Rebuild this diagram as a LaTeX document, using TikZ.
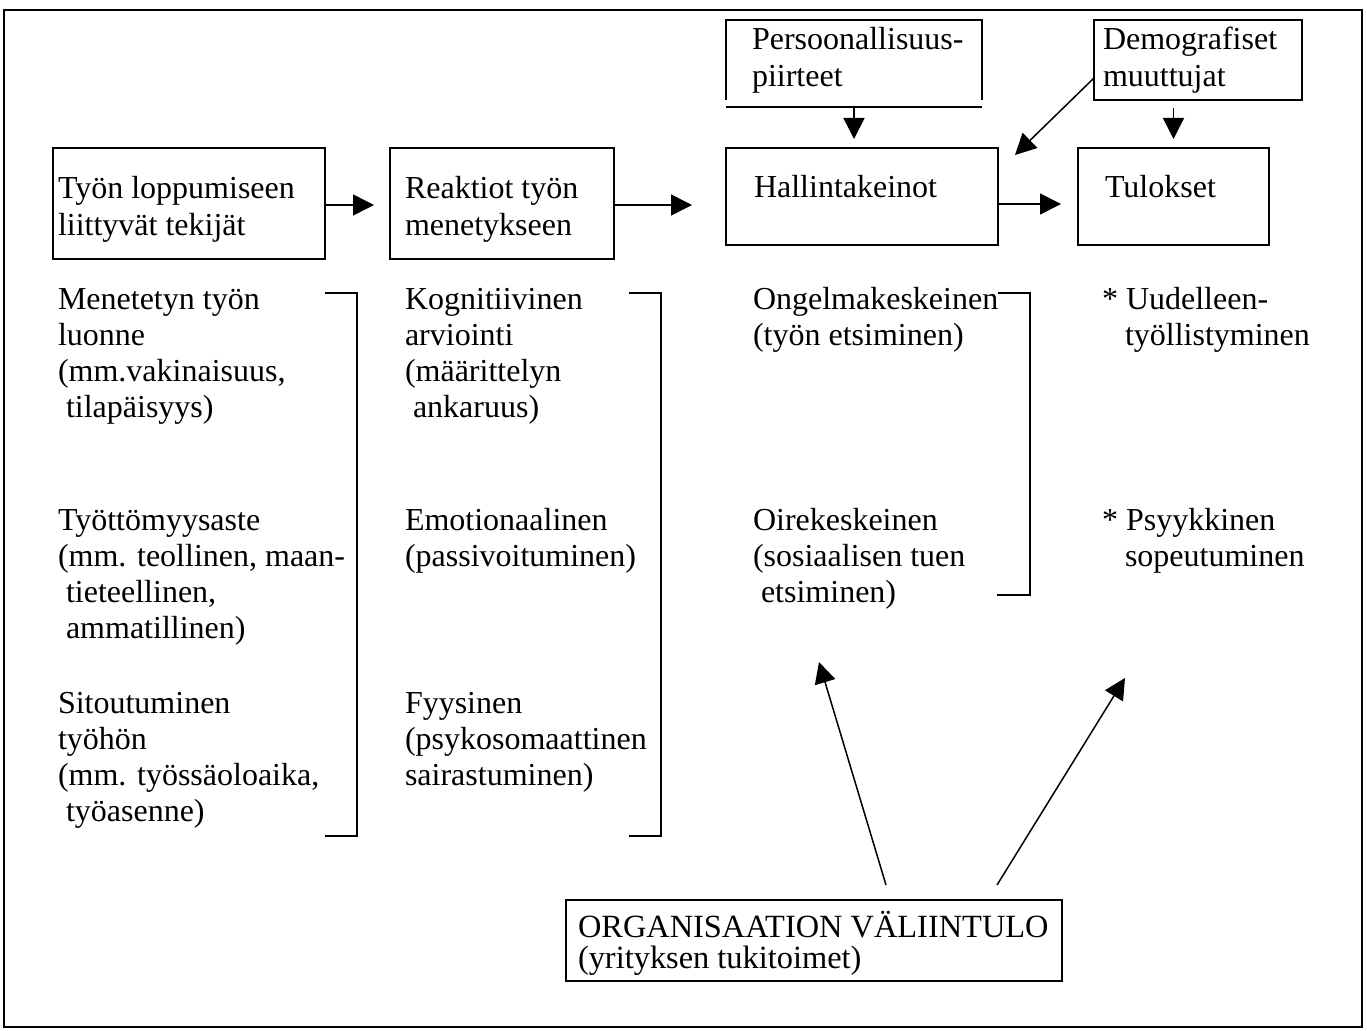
\documentclass[tikz,border=0pt]{standalone}
\usepackage{fontspec}
\setmainfont{Liberation Serif}
\usetikzlibrary{arrows.meta}
\begin{document}
\begin{tikzpicture}[x=1pt,y=-1pt,
  every node/.style={inner sep=0pt, outer sep=0pt},
  txt/.style={anchor=base west, align=left, font=\fontsize{32}{36}\selectfont},
  boxtxt/.style={anchor=base west, align=left, font=\fontsize{32}{37}\selectfont},
  orgtxt/.style={anchor=base west, align=left, font=\fontsize{32.4}{31}\selectfont},
  box/.style={draw, line width=1.6pt},
  conn/.style={line width=1.5pt, -{Triangle[length=21pt,width=21pt]}},
  brk/.style={line width=1.5pt},
]
\useasboundingbox (0,0) rectangle (1367,1030);
\draw[line width=2pt] (4,10) rectangle (1362,1027);

% main boxes
\node[box, minimum width=272pt, minimum height=111pt] (b1) at (189,203.5) {};
\node[box, minimum width=224pt, minimum height=111pt] (b2) at (502,203.5) {};
\node[box, minimum width=272pt, minimum height=97pt] (b3) at (862,196.5) {};
\node[box, minimum width=191pt, minimum height=97pt] (b4) at (1173.5,196.5) {};
\node[minimum width=256pt, minimum height=87pt] (pers) at (854,63.5) {};
\draw[line width=1.6pt] ([yshift=7pt]pers.south west) -- (pers.north west) -- (pers.north east) -- ([yshift=7pt]pers.south east);
\draw[line width=1.6pt] (pers.south west) -- (pers.south east);
\node[box, minimum width=208pt, minimum height=80pt] (demo) at (1198,60) {};
\node[box, minimum width=496pt, minimum height=81pt] (org) at (814,940.5) {};

% box texts (anchor = baseline of last line)
\node[boxtxt] (t1) at (58,235) {Työn loppumiseen\\liittyvät tekijät};
\node[boxtxt] (t2) at (405,235) {Reaktiot työn\\menetykseen};
\node[boxtxt] (t3) at (754,197) {Hallintakeinot};
\node[boxtxt] (t4) at (1105,197) {Tulokset};
\node[boxtxt] (tp) at (752,87) {Persoonallisuus-\\piirteet};
\node[boxtxt] (td) at (1103,87) {Demografiset\\muuttujat};
\node[orgtxt] (to) at (578,968) {ORGANISAATION VÄLIINTULO\\(yrityksen tukitoimet)};

% arrows between boxes
\draw[conn, shorten >=16pt] (b1.east |- 0,205) -- (b2.west |- 0,205);
\draw[conn, shorten >=34pt] (b2.east |- 0,205) -- (b3.west |- 0,205);
\draw[conn, shorten >=17pt] (b3.east |- 0,204) -- (b4.west |- 0,204);
\draw[conn, shorten >=9pt] (pers.south) -- (b3.north -| pers.south);
\draw[conn, shorten <=8pt, shorten >=9pt] (b4.north |- demo.south) -- (b4.north);
\coordinate (dtip) at (1015,155);
\draw[conn] ([yshift=-18pt]demo.west) -- (dtip);

% arrows from organisation
\coordinate (o1s) at (886,885);
\coordinate (o1t) at (819,662);
\coordinate (o2s) at (997,885);
\coordinate (o2t) at (1125,678);
\draw[conn] (o1s) -- (o1t);
\draw[conn] (o2s) -- (o2t);

% brackets
\draw[brk] (325,293) -- (357,293) -- (357,836) -- (325,836);
\draw[brk] (629,293) -- (661,293) -- (661,836) -- (629,836);
\draw[brk] (998,293) -- (1030,293) -- (1030,595) -- (997,595);

% column texts (anchor = baseline of last line)
\node[txt] (c1a) at (58,417) {Menetetyn työn\\luonne\\(mm.vakinaisuus,\\\hspace*{8pt}tilapäisyys)};
\node[txt] (c1b) at (58,638) {Työttömyysaste\\(mm. teollinen, maan-\\\hspace*{8pt}tieteellinen,\\\hspace*{8pt}ammatillinen)};
\node[txt] (c1c) at (58,821) {Sitoutuminen\\työhön\\(mm. työssäoloaika,\\\hspace*{8pt}työasenne)};
\node[txt] (c2a) at (405,417) {Kognitiivinen\\arviointi\\(määrittelyn\\\hspace*{8pt}ankaruus)};
\node[txt] (c2b) at (405,566) {Emotionaalinen\\(passivoituminen)};
\node[txt] (c2c) at (405,785) {Fyysinen\\(psykosomaattinen\\sairastuminen)};
\node[txt] (c3a) at (753,345) {Ongelmakeskeinen\\(työn etsiminen)};
\node[txt] (c3b) at (753,602) {Oirekeskeinen\\(sosiaalisen tuen\\\hspace*{8pt}etsiminen)};
\node[txt] (c4a) at (1102,345) {* Uudelleen-\\\hspace*{23pt}työllistyminen};
\node[txt] (c4b) at (1102,566) {* Psyykkinen\\\hspace*{23pt}sopeutuminen};
\end{tikzpicture}
\end{document}
